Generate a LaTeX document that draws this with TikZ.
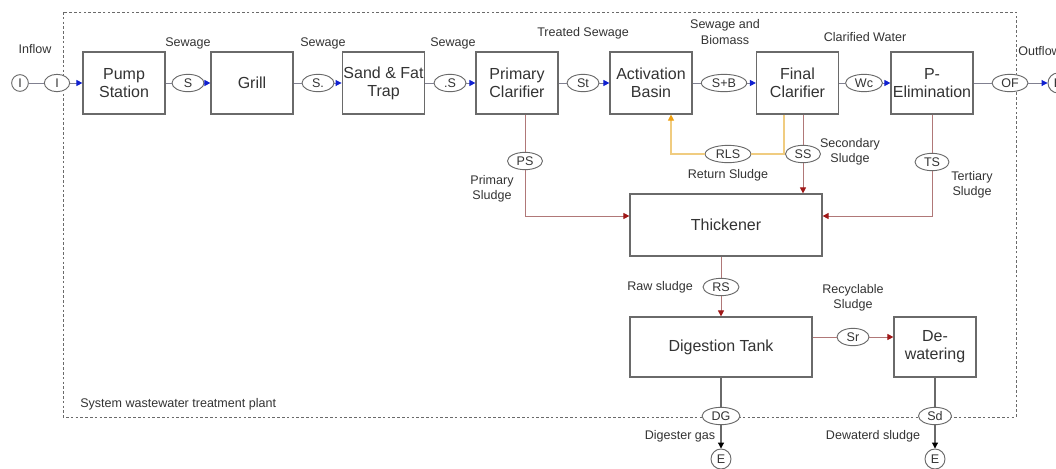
\documentclass[tikz,border=0pt]{standalone}
\usepackage{fontspec}
\setmainfont{Liberation Sans}
\usetikzlibrary{shapes.geometric,arrows.meta}
\definecolor{boxline}{HTML}{6A6A6A}
\definecolor{txt}{HTML}{333333}
\definecolor{flowline}{HTML}{808090}
\definecolor{tipblue}{HTML}{1020D0}
\definecolor{sludgeline}{HTML}{B07878}
\definecolor{sludgetip}{HTML}{A01818}
\definecolor{retline}{HTML}{F0CC80}
\definecolor{rettip}{HTML}{F0A010}
\tikzset{
  unit/.style={draw=boxline, line width=0.9pt, text=txt, align=center,
    minimum width=61.5pt, minimum height=46.5pt, inner sep=1pt,
    font=\fontsize{12}{13.5}\selectfont},
  stream/.style={ellipse, draw=boxline, line width=0.7pt, text=txt, fill=white,
    minimum width=24pt, minimum height=13pt, inner xsep=3pt, inner ysep=0pt,
    font=\fontsize{9.4}{10}\selectfont},
  term/.style={circle, draw=boxline, line width=0.7pt, text=txt, fill=white,
    minimum size=15pt, inner sep=0pt, font=\fontsize{9.4}{10}\selectfont},
  lbl/.style={text=txt, align=center, inner sep=0pt,
    font=\fontsize{9.4}{11.3}\selectfont},
  flow/.style={draw=flowline, line width=0.7pt},
  flowarr/.style={flow, -{Triangle[length=4.5pt,width=4.5pt,color=tipblue]}},
  sl/.style={draw=sludgeline, line width=0.7pt},
  slarr/.style={sl, -{Triangle[length=4.5pt,width=4.5pt,color=sludgetip]}},
  ret/.style={draw=retline, line width=0.9pt},
  retarr/.style={ret, -{Triangle[length=4.5pt,width=4.5pt,color=rettip]}},
  gr/.style={draw=boxline, line width=0.8pt},
  grarr/.style={gr, -{Triangle[length=4.5pt,width=4.5pt,color=black]}},
}
\begin{document}
\begin{tikzpicture}[x=0.75pt,y=-0.75pt]
\fill[white] (0,0) rectangle (1056,468);
\useasboundingbox (0,0) rectangle (1056,468);
\clip (0,0) rectangle (1056,468);

% system boundary
\draw[boxline, line width=0.7pt, dash pattern=on 2pt off 1.6pt] (63,12) rectangle (1016,417);
\node[lbl, anchor=west] (sys) at (80,404) {System wastewater treatment plant};

% top row units
\node[unit] (pump) at (124,83) {Pump\\Station};
\node[unit] (grill) at (252,83) {Grill};
\node[unit] (sand) at (383.5,83) {Sand \& Fat\\Trap};
\node[unit] (prim) at (517,83) {Primary\\Clarifier};
\node[unit] (act) at (651,83) {Activation\\Basin};
\node[unit] (fin) at (797.5,83) {Final\\Clarifier};
\node[unit] (pel) at (932,83) {P-\\Elimination};

% lower units
\node[unit, minimum width=144pt] (thick) at (726,225) {Thickener};
\node[unit, minimum width=136.5pt, minimum height=45pt] (dig) at (721,347) {Digestion Tank};
\node[unit, minimum height=45pt] (dew) at (935,347) {De-\\watering};

% top row streams
\node[term, minimum size=12.5pt] (iin) at (20,83) {I};
\node[stream, minimum width=19pt] (iel) at (57,83) {I};
\node[stream] (s1) at (188,83) {S};
\node[stream] (s2) at (318,83) {S.};
\node[stream] (s3) at (450,83) {.S};
\node[stream] (st) at (583,83) {St};
\node[stream] (sb) at (724,83) {S+B};
\node[stream] (wc) at (864,83) {Wc};
\node[stream] (of) at (1010,83) {OF};
\node[term] (eout) at (1058,83) {E};

\draw[flow] (iin) -- (iel);
\draw[flowarr] (iel) -- (pump);
\draw[flow] (pump) -- (s1);
\draw[flowarr] (s1) -- (grill);
\draw[flow] (grill) -- (s2);
\draw[flowarr] (s2) -- (sand);
\draw[flow] (sand) -- (s3);
\draw[flowarr] (s3) -- (prim);
\draw[flow] (prim) -- (st);
\draw[flowarr] (st) -- (act);
\draw[flow] (act) -- (sb);
\draw[flowarr] (sb) -- (fin);
\draw[flow] (fin) -- (wc);
\draw[flowarr] (wc) -- (pel);
\draw[flow] (pel) -- (of);
\draw[flowarr] (of) -- (eout);

% top labels
\node[lbl] (linflow) at (35,49) {Inflow};
\node[lbl] (lsew1) at (188,43) {Sewage};
\node[lbl] (lsew2) at (323,43) {Sewage};
\node[lbl] (lsew3) at (453,43) {Sewage};
\node[lbl] (ltreat) at (583,33) {Treated Sewage};
\node[lbl] (lsb) at (725,32) {Sewage and\\Biomass};
\node[lbl] (lcw) at (865,37) {Clarified Water};
\node[lbl, anchor=west] (lout) at (1018,51) {Outflow};

% sludge streams
\node[stream] (ps) at (525,161) {PS};
\node[stream] (rls) at (728,154) {RLS};
\node[stream] (ss) at (803,154) {SS};
\node[stream] (ts) at (932,162) {TS};
\node[stream] (rs) at (721,287) {RS};
\node[stream] (sr) at (853,337) {Sr};
\node[stream] (dg) at (721,416) {DG};
\node[stream] (sd) at (935,416) {Sd};
\node[term] (e1) at (721,459) {E};
\node[term] (e2) at (935,459) {E};
\coordinate (rk) at (784,154);
\coordinate (ra) at (671,154);

% return sludge
\draw[ret] (fin.south -| rk) -- (rk) -- (rls);
\draw[retarr] (rls) -- (ra) -- (act.south -| ra);

% sludge lines
\draw[sl] (prim.south -| ps) -- (ps);
\draw[slarr] (ps) |- ([yshift=6.75pt]thick.west);
\draw[sl] (fin.south -| ss) -- (ss);
\draw[slarr] (ss) -- (thick.north -| ss);
\draw[sl] (pel) -- (ts);
\draw[slarr] (ts) |- ([yshift=6.75pt]thick.east);
\draw[sl] (thick.south -| rs) -- (rs);
\draw[slarr] (rs) -- (dig.north -| rs);
\draw[sl] (dig.east |- sr) -- (sr);
\draw[slarr] (sr) -- (dew.west |- sr);
\draw[gr] (dig.south -| dg) -- (dg);
\draw[grarr] (dg) -- (e1);
\draw[gr] (dew) -- (sd);
\draw[grarr] (sd) -- (e2);

% sludge labels
\node[lbl] (lps) at (492,189) {Primary\\Sludge};
\node[lbl] (lrls) at (728,175) {Return Sludge};
\node[lbl] (lss) at (850,152) {Secondary\\Sludge};
\node[lbl] (lts) at (972,185) {Tertiary\\Sludge};
\node[lbl] (lrs) at (660,287) {Raw sludge};
\node[lbl] (lsr) at (853,298) {Recyclable\\Sludge};
\node[lbl] (ldg) at (680,436) {Digester gas};
\node[lbl] (lsd) at (873,436) {Dewaterd sludge};
\end{tikzpicture}
\end{document}
